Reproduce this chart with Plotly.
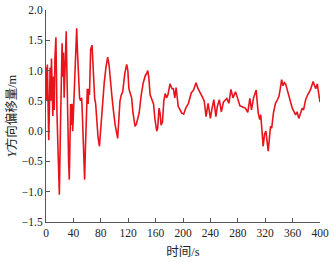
import plotly.graph_objects as go

time_s = [0, 1, 2, 3, 4, 5, 6, 7, 8, 9, 10, 11, 12, 13, 14.5, 16, 17.5, 19.5, 21, 22, 23.5, 24.5, 25.5, 26.5, 28, 29.5, 30.5, 31.5, 33, 34, 35, 36, 37, 38, 39, 40, 41, 42, 43.5, 44.8, 46, 47.5, 49, 50.5, 52, 53, 54.5, 56.4, 57.5, 59, 60.3, 61.5, 62.5, 63.5, 65.2, 67.2, 69, 71, 72.5, 74, 76, 78, 80, 82.7, 85, 87.5, 90, 92, 94, 96, 98.3, 101, 104.6, 106, 108, 110, 112, 115, 117.8, 119.5, 121, 123, 125, 127, 130, 132, 134, 136, 139, 142, 145, 147, 148.5, 150, 152, 155, 157, 159, 161.6, 163, 165, 166.5, 168, 170, 172, 174, 176, 178, 181, 184, 186, 188, 190, 193, 196, 198, 201, 204, 208, 212, 215.5, 219, 222, 225, 228, 231, 233.7, 236.6, 240, 242, 245, 248, 250, 253, 256, 259, 264, 267, 270, 273, 276.6, 279, 283, 287, 291, 294.6, 297.6, 300, 303, 306.8, 309.8, 312, 313.5, 317, 319, 321, 324.4, 327.8, 329.5, 332, 335, 338, 340, 342, 344, 346, 348, 349.8, 352, 356, 359.5, 364.4, 366.5, 369, 372, 374, 376, 379, 382, 386, 390, 392, 393.7, 396, 398, 400]

offset_m = [1.05, 0.5, 1.1, 0.3, -0.15, 0.4, 1.05, 0.5, 1.2, 0.7, 0.25, 0.9, 0.35, 1.2, 1.55, 0.3, -0.5, -1.05, 0.0, 1.0, 1.45, 0.9, 1.3, 0.55, 1.2, 1.65, 1.0, 0.2, -0.5, -0.8, -0.3, 0.45, 0.1, 0.45, 0.0, 0.3, 0.6, 1.0, 1.55, 1.7, 1.3, 0.8, 0.55, 0.5, 0.55, 0.3, -0.3, -0.8, -0.3, 0.4, 0.7, 0.45, 0.7, 0.6, 1.35, 1.42, 1.0, 0.55, 0.45, 0.2, -0.1, -0.25, 0.1, 0.5, 0.8, 1.05, 1.22, 1.1, 0.9, 0.6, 0.35, 0.1, -0.12, 0.1, 0.5, 0.6, 0.65, 0.95, 1.1, 1.0, 0.7, 0.62, 0.55, 0.3, 0.08, 0.12, 0.2, 0.3, 0.6, 0.8, 0.92, 0.95, 1.0, 0.9, 0.6, 0.5, 0.45, 0.2, 0.0, 0.05, 0.38, 0.3, 0.1, 0.15, 0.5, 0.62, 0.55, 0.6, 0.78, 0.7, 0.7, 0.55, 0.72, 0.41, 0.35, 0.3, 0.28, 0.38, 0.46, 0.63, 0.68, 0.8, 0.7, 0.62, 0.57, 0.5, 0.24, 0.46, 0.21, 0.35, 0.52, 0.24, 0.4, 0.52, 0.32, 0.48, 0.54, 0.46, 0.69, 0.55, 0.65, 0.57, 0.42, 0.4, 0.38, 0.31, 0.54, 0.35, 0.55, 0.68, 0.3, 0.19, 0.27, -0.25, -0.05, 0.0, -0.33, 0.08, 0.05, 0.3, 0.46, 0.52, 0.57, 0.7, 0.85, 0.75, 0.8, 0.78, 0.68, 0.52, 0.38, 0.27, 0.32, 0.21, 0.3, 0.38, 0.35, 0.52, 0.6, 0.68, 0.82, 0.75, 0.7, 0.78, 0.65, 0.48]

x_ticks = [0, 40, 80, 120, 160, 200, 240, 280, 320, 360, 400]
y_ticks = [-1.5, -1.0, -0.5, 0.0, 0.5, 1.0, 1.5, 2.0]
y_tick_text = ["\u22121.5", "\u22121.0", "\u22120.5", "0.0", "0.5", "1.0", "1.5", "2.0"]

tick_font = "Times New Roman, Liberation Serif, serif"
title_font = "Liberation Serif, Noto Sans CJK SC"

fig = go.Figure(go.Scatter(
    x=time_s, y=offset_m, mode="lines",
    line=dict(color="#e8141c", width=1.6),
    showlegend=False, hoverinfo="skip",
))

fig.update_layout(
    width=334, height=262,
    margin=dict(l=46, r=14, t=10, b=40, autoexpand=False),
    paper_bgcolor="white", plot_bgcolor="white",
    font=dict(family=tick_font, size=11.5, color="#222222"),
)
fig.update_xaxes(
    automargin=False,
    range=[0, 400], tickvals=x_ticks, ticktext=[str(v) for v in x_ticks],
    tickfont=dict(family=tick_font, size=11.5),
    ticks="inside", ticklen=4, tickcolor="#555555",
    showline=True, linecolor="#555555", linewidth=1,
    showgrid=False, zeroline=False,
    title=dict(text="时间/s", font=dict(family=title_font, size=12.5), standoff=9),
)
fig.update_yaxes(
    automargin=False,
    range=[-1.5, 2.0], tickvals=y_ticks, ticktext=y_tick_text,
    tickfont=dict(family=tick_font, size=11.5),
    ticks="inside", ticklen=4, tickcolor="#555555",
    showline=True, linecolor="#555555", linewidth=1,
    showgrid=False, zeroline=False,
    title=dict(text="<i>Y</i>方向偏移量/m", font=dict(family=title_font, size=12.5), standoff=2),
)

fig.write_html("out.html", config={"displayModeBar": False},
               post_script="document.body.style.margin='0';")
